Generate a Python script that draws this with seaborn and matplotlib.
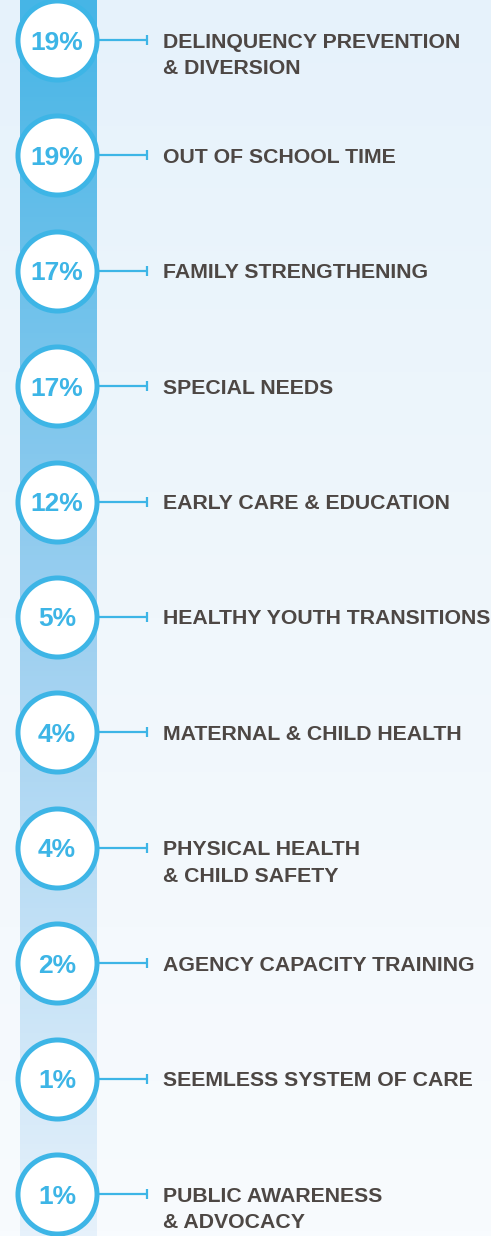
import numpy as np
import pandas as pd
import seaborn as sns
import matplotlib.pyplot as plt
from matplotlib import font_manager
from matplotlib.colors import LinearSegmentedColormap

# funding share by program area
shares = [19, 19, 17, 17, 12, 5, 4, 4, 2, 1, 1]
areas = ["DELINQUENCY PREVENTION\n& DIVERSION", "OUT OF SCHOOL TIME",
         "FAMILY STRENGTHENING", "SPECIAL NEEDS", "EARLY CARE & EDUCATION",
         "HEALTHY YOUTH TRANSITIONS", "MATERNAL & CHILD HEALTH",
         "PHYSICAL HEALTH\n& CHILD SAFETY", "AGENCY CAPACITY TRAINING",
         "SEEMLESS SYSTEM OF CARE", "PUBLIC AWARENESS\n& ADVOCACY"]
pct_labels = [f"{s}%" for s in shares]

df = pd.DataFrame({"area": areas, "share": shares, "label": pct_labels})
df["row"] = np.arange(len(df))

BLUE = "#3db5e6"
TEXT = "#4d4744"
W, H = 491, 1236
top_c, step = 40, 115.4   # pixel y of first circle, pixel distance between rows

# pick Liberation Sans Bold file directly
bold_file = None
for f in font_manager.findSystemFonts():
    if f.endswith("LiberationSans-Bold.ttf"):
        bold_file = f
        break
fp_kw = dict(fontproperties=font_manager.FontProperties(fname=bold_file)) if bold_file else dict(weight="bold")

sns.set_style("white")
fig = plt.figure(figsize=(W / 100, H / 100), dpi=100)
ax = fig.add_axes([0, 0, 1, 1])
ax.set_xlim(0, W)
ax.set_ylim((H - top_c) / step, -top_c / step)
ax.axis("off")

# background gradient
bg = LinearSegmentedColormap.from_list("bg", ["#e6f2fb", "#f0f7fc", "#f8fbfe"])
grad = np.linspace(0, 1, 256).reshape(-1, 1)
y0, y1 = ax.get_ylim()
ax.imshow(grad, cmap=bg, aspect="auto", extent=(0, W, y0, y1), zorder=0)

# vertical bar gradient
bar = LinearSegmentedColormap.from_list("bar", ["#46b5e6", "#9ccff0", "#e6f1fb"])
ax.imshow(grad, cmap=bar, aspect="auto", extent=(20, 97, y0, y1), zorder=1)

# connectors with end ticks
ax.hlines(df["row"], 99, 147, color=BLUE, lw=1.6, zorder=2)
sns.scatterplot(x=[147] * len(df), y=df["row"], marker="|", s=55, color=BLUE,
                linewidth=1.6, ax=ax, zorder=2, legend=False)

# circles
sns.scatterplot(x=[57] * len(df), y=df["row"], s=3240, color="white",
                edgecolor=BLUE, linewidth=3.6, ax=ax, zorder=3, legend=False)

for _, d in df.iterrows():
    t = ax.annotate(d["label"], xy=(57, d["row"]), xytext=(0, -9.5),
                    textcoords="offset pixels", ha="center", va="baseline",
                    color=BLUE, zorder=4, **fp_kw)
    t.set_fontsize(19)
    for k, line in enumerate(d["area"].split("\n")):
        t = ax.annotate(line, xy=(163, d["row"]), xytext=(0, -7.5 - 27 * k),
                        textcoords="offset pixels", ha="left", va="baseline",
                        color=TEXT, zorder=4, **fp_kw)
        t.set_fontsize(15.3)

fig.savefig("out.png", dpi=100)
